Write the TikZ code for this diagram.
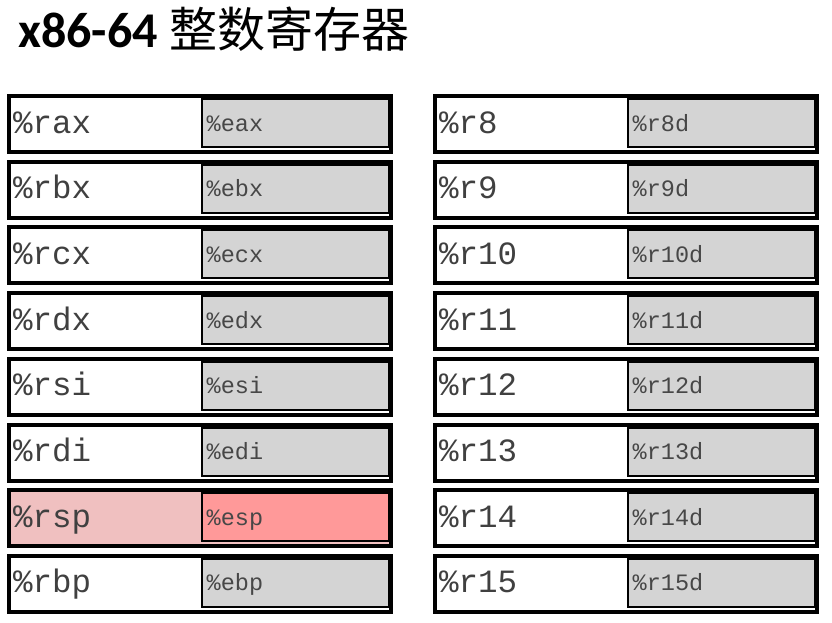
\documentclass[tikz,border=0pt]{standalone}
\usepackage{fontspec}
\setmainfont{Carlito}
\newfontfamily\regmono{Liberation Mono}
\newfontfamily\cjk{Noto Sans CJK SC}
\definecolor{regGray}{RGB}{212,212,212}
\definecolor{spOuter}{RGB}{240,192,192}
\definecolor{spInner}{RGB}{255,153,153}
\tikzset{
  outerbox/.style={draw=black, line width=4pt, fill=white, minimum width=382pt, minimum height=56pt, inner sep=0pt, outer sep=0pt},
  innerbox/.style={draw=black, line width=2pt, fill=regGray, minimum width=187pt, minimum height=48pt, inner sep=0pt, outer sep=0pt},
  biglabel/.style={anchor=base west, inner sep=0pt, font=\regmono\fontsize{32.5}{32.5}\selectfont, text=black!75},
  smalllabel/.style={anchor=base west, inner sep=0pt, font=\regmono\fontsize{23.5}{23.5}\selectfont, text=black!72},
}
\begin{document}
\begin{tikzpicture}[x=1pt,y=-1pt]
\useasboundingbox (0,0) rectangle (832,622);
\node[anchor=base west, inner sep=0pt, font=\fontsize{50}{50}\selectfont\bfseries] (title) at (18,47) {x86-64 {\cjk\mdseries\fontsize{48}{48}\selectfont 整数寄存器}};
% left column
\foreach \r/\e [count=\i from 0] in {rax/eax,rbx/ebx,rcx/ecx,rdx/edx,rsi/esi,rdi/edi,rsp/esp,rbp/ebp}{
  \pgfmathsetmacro{\t}{94+\i*65.7}
  \ifnum\i=6
    \node[outerbox, fill=spOuter] (\r) at (200,\t+30) {};
    \node[innerbox, fill=spInner] (\e) at (295.5,\t+29) {};
  \else
    \node[outerbox] (\r) at (200,\t+30) {};
    \node[innerbox] (\e) at (295.5,\t+29) {};
  \fi
  \node[biglabel] (\r-t) at (13,\t+39) {\%\r};
  \node[smalllabel] (\e-t) at (206.5,\t+37) {\%\e};
}
% right column
\foreach \n [count=\i from 0] in {8,9,10,11,12,13,14,15}{
  \pgfmathsetmacro{\t}{94+\i*65.7}
  \node[outerbox] (r\n) at (625.5,\t+30) {};
  \node[innerbox] (r\n d) at (721,\t+29) {};
  \node[biglabel] (r\n-t) at (439,\t+39) {\%r\n};
  \node[smalllabel] (r\n d-t) at (632.5,\t+37) {\%r\n d};
}
\end{tikzpicture}
\end{document}
